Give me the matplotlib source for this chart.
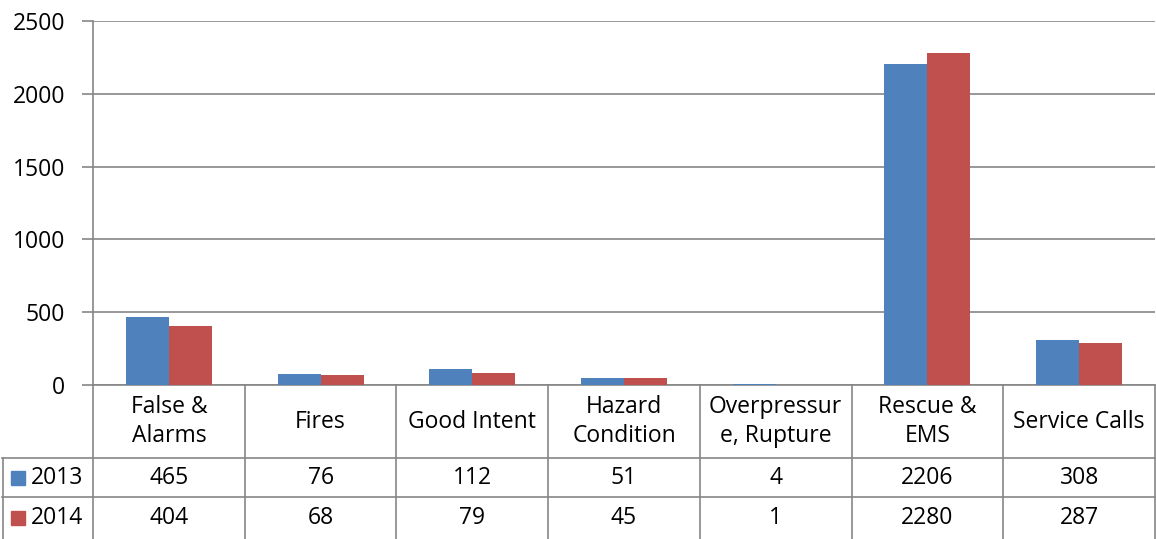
import matplotlib.pyplot as plt
from matplotlib.transforms import blended_transform_factory
from matplotlib.patches import Rectangle

# ~~~~~~~~~~~~~~~~~~~~~~~~~~~~ Données ~~~~~~~~~~~~~~~~~~~~~~~~~~~ #
categories = ["False &\nAlarms", "Fires", "Good Intent", "Hazard\nCondition",
              "Overpressur\ne, Rupture", "Rescue &\nEMS", "Service Calls"]
series_names = ["2013", "2014"]
values_2013 = [465, 76, 112, 51, 4, 2206, 308]
values_2014 = [404, 68, 79, 45, 1, 2280, 287]
y_ticks = [0, 500, 1000, 1500, 2000, 2500]

colors = ["#4F81BD", "#C0504D"]
gray = "#868686"
plt.rcParams['font.family'] = ['Open Sans', 'DejaVu Sans']
fs_tab = 16.5
fs_tick = 16.5

W, H = 1156, 539
fig = plt.figure(figsize=(W / 100, H / 100), dpi=100)
ax = fig.add_axes([93 / W, 1 - 385 / H, (W - 94) / W, (385 - 21) / H])

n = len(categories)
x = list(range(n))
bw = 0.283
ax.bar([i - bw / 2 for i in x], values_2013, bw, color=colors[0], zorder=3)
ax.bar([i + bw / 2 for i in x], values_2014, bw, color=colors[1], zorder=3)

ax.set_xlim(-0.5, n - 0.5)
ax.set_ylim(0, 2500)
ax.set_yticks(y_ticks)
ax.tick_params(axis='y', labelsize=fs_tick, length=8, width=1.2, color=gray, pad=12)
ax.set_xticks([])
ax.yaxis.grid(True, color=gray, linewidth=1.2, zorder=0)
for s in ['top', 'right', 'bottom']:
    ax.spines[s].set_visible(False)
ax.spines['left'].set_color(gray)
ax.spines['left'].set_linewidth(1.2)

# ~~~~~~~~~~~~~~~~~~~~~~~~ Table de données ~~~~~~~~~~~~~~~~~~~~~~~~ #
tr = blended_transform_factory(ax.transData, fig.transFigure)
trf = fig.transFigure
def fy(p):
    return 1 - p / H

y_top, y_h1, y_h2, y_bot = 385, 458, 497, 539
lw = 1.2
# lignes horizontales
ax.plot([-0.5, n - 0.5], [fy(y_top)] * 2, color=gray, lw=lw, transform=tr, clip_on=False)
for yy in [y_h1, y_h2]:
    fig.add_artist(plt.Line2D([2 / W, 1], [fy(yy)] * 2, color=gray, lw=lw))
# lignes verticales
for i in range(n + 1):
    ax.plot([i - 0.5] * 2, [fy(y_top), fy(y_bot)], color=gray, lw=lw,
            transform=tr, clip_on=False)
fig.add_artist(plt.Line2D([2.5 / W] * 2, [fy(y_h1), fy(y_bot)], color=gray, lw=lw))

for i, c in enumerate(categories):
    ax.text(i, fy((y_top + y_h1) / 2), c, transform=tr, ha='center', va='center',
            fontsize=fs_tab, linespacing=1.3)
for r, vals in enumerate([values_2013, values_2014]):
    yc = fy(([y_h1, y_h2][r] + [y_h2, y_bot][r]) / 2)
    for i, v in enumerate(vals):
        ax.text(i, yc, str(v), transform=tr, ha='center', va='center', fontsize=fs_tab)
    fig.add_artist(Rectangle((11 / W, yc - 7 / H), 14 / W, 14 / H,
                             color=colors[r], transform=trf))
    fig.text(31 / W, yc, series_names[r], ha='left', va='center', fontsize=fs_tab)

fig.savefig("out.png", dpi=100)
